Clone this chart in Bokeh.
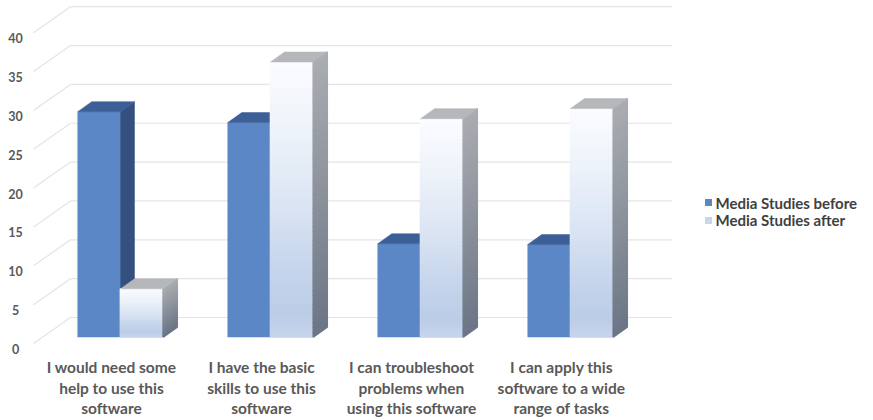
import numpy as np
from bokeh.plotting import figure
from bokeh.models import Range1d, ColumnDataSource
from bokeh.embed import file_html
from bokeh.resources import INLINE
from bokeh.core.properties import value

# ---- data -------------------------------------------------------------
categories = [
    "I would need some\nhelp to use this\nsoftware",
    "I have the basic\nskills to use this\nsoftware",
    "I can troubleshoot\nproblems when\nusing this software",
    "I can apply this\nsoftware to a wide\nrange of tasks",
]
series_names = ["Media Studies before", "Media Studies after"]
before = [29.0, 27.6, 12.0, 11.9]
after = [6.2, 35.4, 28.1, 29.4]
y_ticks = [0, 5, 10, 15, 20, 25, 30, 35, 40]

# ---- geometry ---------------------------------------------------------
W, H = 873, 420
PX_X = 150.0          # pixels per category step
PX_Y = 7.77           # pixels per value unit
BAR_W = 0.285         # bar width in category units
# oblique depth offsets (category units, value units)
BAR_DX, BAR_DY = 14 / PX_X, 10 / PX_Y          # depth of a bar
WALL_DX, WALL_DY = 28 / PX_X, 19.5 / PX_Y      # bar plane -> back wall
FRONT_DX, FRONT_DY = -9 / PX_X, -6.5 / PX_Y    # bar plane -> front edge
WALL_X0, WALL_X1 = -0.52, 3.49                 # wall extent in bar plane

x0 = -0.8
y0 = -83.5 / PX_Y
p = figure(
    width=W, height=H,
    x_range=Range1d(x0, x0 + W / PX_X),
    y_range=Range1d(y0, y0 + H / PX_Y),
    x_axis_location=None, y_axis_location=None,
    toolbar_location=None, output_backend="svg",
    min_border=0, outline_line_color=None,
    background_fill_color="white", border_fill_color="white",
)
p.xgrid.visible = False
p.ygrid.visible = False


def hex2rgb(h):
    h = h.lstrip("#")
    return np.array([int(h[i:i + 2], 16) for i in (0, 2, 4)], dtype=float)


def ramp(stops, t):
    pos = [s[0] for s in stops]
    cols = [hex2rgb(s[1]) for s in stops]
    for k in range(len(pos) - 1):
        if pos[k] <= t <= pos[k + 1]:
            f = (t - pos[k]) / (pos[k + 1] - pos[k])
            c = cols[k] * (1 - f) + cols[k + 1] * f
            return "#%02x%02x%02x" % tuple(int(round(v)) for v in c)
    c = cols[-1] if t > pos[-1] else cols[0]
    return "#%02x%02x%02x" % tuple(int(v) for v in c)


GRID = "#e4e4e4"
# back wall gridlines
p.multi_line(
    xs=[[WALL_X0 + WALL_DX, WALL_X1 + WALL_DX] for _ in y_ticks],
    ys=[[v + WALL_DY, v + WALL_DY] for v in y_ticks],
    line_color=GRID, line_width=1.2,
)
# side wall diagonals
p.multi_line(
    xs=[[WALL_X0 + FRONT_DX, WALL_X0 + WALL_DX] for _ in y_ticks],
    ys=[[v + FRONT_DY, v + WALL_DY] for v in y_ticks],
    line_color=GRID, line_width=1.2,
)
# value labels on the front edge
p.text(
    x=[WALL_X0 + FRONT_DX - 0.12] * len(y_ticks),
    y=[v + FRONT_DY - 0.7 for v in y_ticks],
    text=[str(v) for v in y_ticks],
    text_font=value("Lato"), text_font_style="bold", text_font_size="12.5px",
    text_color="#595959", text_align="center", text_baseline="middle",
)

idx = np.arange(len(categories), dtype=float)

# ---- "before" bars (solid blue) ---------------------------------------
bl = idx - BAR_W
br = idx
p.quad(left=bl, right=br, bottom=0, top=before,
       fill_color="#5b87c6", line_color="#5b87c6", line_width=0.5)
p.patches(
    xs=[[r, r + BAR_DX, r + BAR_DX, r] for r in br],
    ys=[[0, BAR_DY, v + BAR_DY, v] for v in before],
    fill_color="#33507f", line_color="#33507f", line_width=0.5,
)
p.patches(
    xs=[[l, r, r + BAR_DX, l + BAR_DX] for l, r in zip(bl, br)],
    ys=[[v, v, v + BAR_DY, v + BAR_DY] for v in before],
    fill_color="#3d5f97", line_color="#3d5f97", line_width=0.5,
)

# ---- "after" bars (white-to-blue gradient, grey sides) ----------------
FRONT_STOPS = [(0.0, "#fbfcfe"), (0.25, "#eef3fa"), (0.55, "#d8e3f2"),
               (0.8, "#c2d2ea"), (0.92, "#bccde8"), (1.0, "#c6d4eb")]
SIDE_STOPS = [(0.0, "#aaadb2"), (0.5, "#8c929c"), (1.0, "#6c7686")]
N = 60
al = idx
ar = idx + BAR_W

fl, fr, fb, ft, fc = [], [], [], [], []
sx, sy, sc = [], [], []
for l, r, v in zip(al, ar, after):
    for k in range(N):
        top = v * (1 - k / N)
        bot = v * (1 - (k + 1) / N)
        t = (k + 0.5) / N
        fl.append(l); fr.append(r); fb.append(bot); ft.append(top)
        fc.append(ramp(FRONT_STOPS, t))
        sx.append([r, r + BAR_DX, r + BAR_DX, r])
        sy.append([bot, bot + BAR_DY, top + BAR_DY, top])
        sc.append(ramp(SIDE_STOPS, t))

p.quad(source=ColumnDataSource(dict(l=fl, r=fr, b=fb, t=ft, c=fc)),
       left="l", right="r", bottom="b", top="t",
       fill_color="c", line_color="c", line_width=1.6)
p.patches(source=ColumnDataSource(dict(xs=sx, ys=sy, c=sc)),
          xs="xs", ys="ys", fill_color="c", line_color="c", line_width=1.6)
p.patches(
    xs=[[l, r, r + BAR_DX, l + BAR_DX] for l, r in zip(al, ar)],
    ys=[[v, v, v + BAR_DY, v + BAR_DY] for v in after],
    fill_color="#b5b7ba", line_color="#b5b7ba", line_width=0.5,
)

# ---- category labels under the front edge ------------------------------
p.text(
    x=idx + FRONT_DX,
    y=[-2.75] * len(categories),
    text=categories,
    text_font=value("Lato"), text_font_style="bold", text_font_size="15.5px",
    text_color="#595959", text_align="center", text_baseline="top",
    text_line_height=1.12,
)

# ---- legend -------------------------------------------------------------
leg_y = [17.3, 15.0]
leg_x = 3.92
p.rect(x=[leg_x] * 2, y=leg_y, width=7 / PX_X, height=7 / PX_Y,
       fill_color=["#5b87c6", "#c8d6ec"], line_color=None)
p.text(
    x=[leg_x + 7 / PX_X] * 2, y=leg_y, text=series_names,
    text_font=value("Lato"), text_font_style="bold", text_font_size="15px",
    text_color="#404040", text_align="left", text_baseline="middle",
)

open("out.html", "w").write(file_html(p, INLINE))
